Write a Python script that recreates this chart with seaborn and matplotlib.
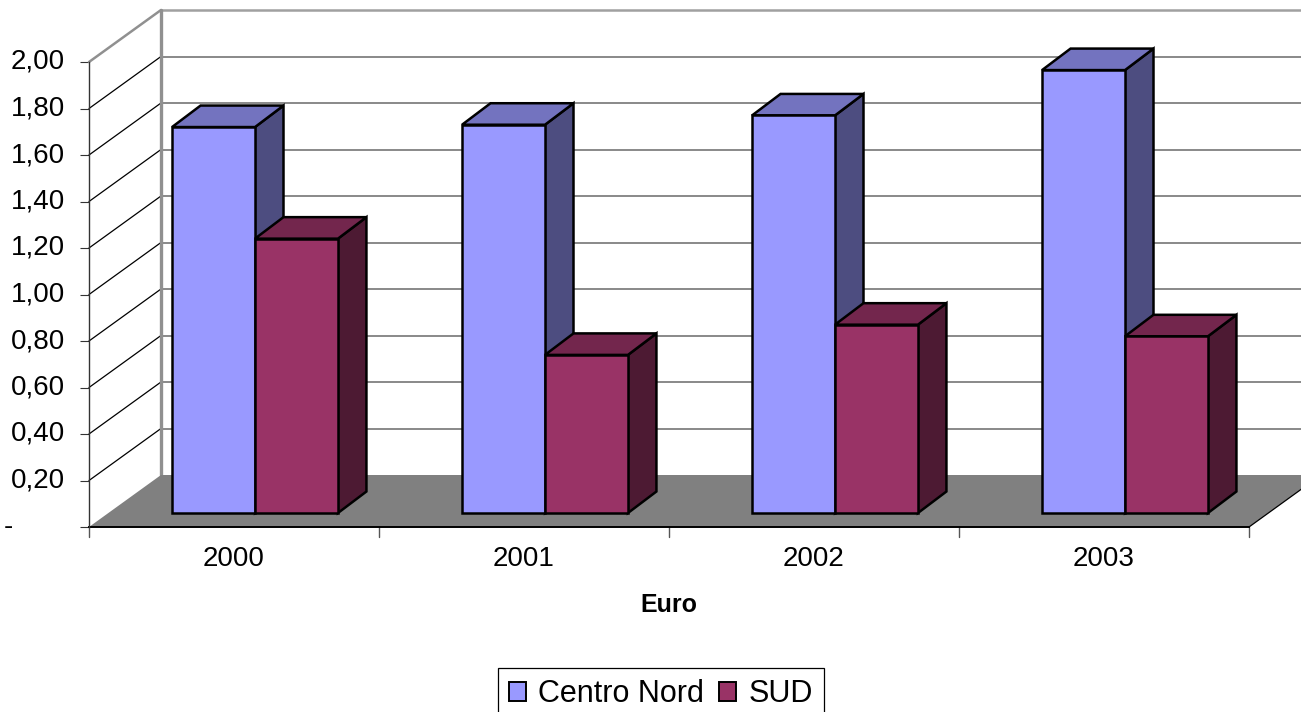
import matplotlib
matplotlib.use("Agg")
import matplotlib.pyplot as plt
from matplotlib.patches import Polygon
from matplotlib.lines import Line2D
from matplotlib.transforms import Affine2D
import pandas as pd
import seaborn as sns

years = ["2000", "2001", "2002", "2003"]
centro_nord = [1.66, 1.67, 1.71, 1.905]
sud = [1.18, 0.68, 0.81, 0.76]
series_names = ["Centro Nord", "SUD"]
y_ticks = [0.0, 0.2, 0.4, 0.6, 0.8, 1.0, 1.2, 1.4, 1.6, 1.8, 2.0]
y_labels = ["-", "0,20", "0,40", "0,60", "0,80", "1,00", "1,20", "1,40", "1,60", "1,80", "2,00"]

FRONT = {"Centro Nord": "#9999FF", "SUD": "#993366"}
TOP = {"Centro Nord": "#7373BF", "SUD": "#73264D"}
SIDE = {"Centro Nord": "#4D4D80", "SUD": "#4D1A33"}

sns.set_theme(style="white")
plt.rcParams["font.family"] = ["Liberation Sans", "DejaVu Sans"]

W, H = 1301, 712
fig = plt.figure(figsize=(W / 100, H / 100), dpi=100, facecolor="white")
ax = fig.add_axes([89 / W, (H - 527) / H, 1160 / W, 465 / H])
ax.patch.set_alpha(0)

df = pd.DataFrame({
    "Anno": years * 2,
    "Serie": [series_names[0]] * 4 + [series_names[1]] * 4,
    "Valore": centro_nord + sud,
})
sns.barplot(data=df, x="Anno", y="Valore", hue="Serie", order=years,
            hue_order=series_names, palette=FRONT, width=0.572, gap=0,
            dodge=True, saturation=1, edgecolor="black", linewidth=1.8,
            ax=ax, legend=False)
ax.set_xlim(-0.5, 3.5)
ax.set_ylim(0, 2.0)


def shifted(dx, dy):
    return ax.transData + Affine2D().translate(dx, dy)


# pixel depth of the pseudo-3D box and of the bars inside it
WALL = (72, 52)
BAR_OFF = (21, 14)
BAR_DEPTH = (28.5, 21.5)
LW_BAR = 1.8

back = shifted(*WALL)
x0, x1 = ax.get_xlim()
# back wall gridlines
for v in y_ticks[1:-1]:
    ax.add_line(Line2D([x0, x1 + 0.3], [v, v], transform=back, color="#808080",
                       lw=1.3, zorder=1, clip_on=False))
for v in y_ticks[1:]:
    p0 = ax.transData.transform((x0, v))
    col, lw = ("#909090", 1.8) if v == 2.0 else ("black", 0.9)
    ax.add_line(Line2D([p0[0], p0[0] + WALL[0]], [p0[1], p0[1] + WALL[1]],
                       transform=None, color=col, lw=lw, zorder=1, clip_on=False))
ax.add_line(Line2D([x0, x1 + 0.3], [2.0, 2.0], transform=back, color="#A0A0A0",
                   lw=1.8, zorder=1, clip_on=False))
ax.add_line(Line2D([x0, x0], [0, 2.0], transform=back, color="#909090",
                   lw=2.4, zorder=1, clip_on=False))

# floor
a = ax.transData.transform((x0, 0))
b = ax.transData.transform((x1, 0))
floor = [a, (a[0] + WALL[0], a[1] + WALL[1]), (b[0] + WALL[0], b[1] + WALL[1]), b]
ax.add_patch(Polygon(floor, closed=True, transform=None, facecolor="#808080",
                     edgecolor="none", zorder=2, clip_on=False))
ax.add_line(Line2D([b[0], b[0] + WALL[0]], [b[1], b[1] + WALL[1]], transform=None,
                   color="black", lw=0.9, zorder=2, clip_on=False))

# bars: shift seaborn's bars and add depth faces derived from each bar
z = 3.0
bar_tf = shifted(*BAR_OFF)
n_cat = len(years)
for i in range(n_cat):
    for j, name in enumerate(series_names):
        bar = ax.containers[j][i]
        xa, xb = bar.get_x(), bar.get_x() + bar.get_width()
        top = bar.get_height()
        pa = bar_tf.transform((xa, top))
        pb = bar_tf.transform((xb, top))
        pc = bar_tf.transform((xb, 0))
        dx, dy = BAR_DEPTH
        ax.add_patch(Polygon([pb, (pb[0] + dx, pb[1] + dy), (pc[0] + dx, pc[1] + dy), pc],
                             closed=True, transform=None, facecolor=SIDE[name],
                             edgecolor="black", lw=LW_BAR, joinstyle="miter",
                             zorder=z, clip_on=False))
        ax.add_patch(Polygon([pa, pb, (pb[0] + dx, pb[1] + dy), (pa[0] + dx, pa[1] + dy)],
                             closed=True, transform=None, facecolor=TOP[name],
                             edgecolor="black", lw=LW_BAR, joinstyle="miter",
                             zorder=z, clip_on=False))
        bar.set_transform(bar_tf)
        bar.set_clip_on(False)
        bar.set_zorder(z + 0.1)
        z += 1

# axes
for s in ("top", "right"):
    ax.spines[s].set_visible(False)
ax.spines["left"].set_color("#333333")
ax.spines["left"].set_linewidth(1.0)
ax.spines["bottom"].set_color("black")
ax.spines["bottom"].set_linewidth(1.4)
ax.spines["left"].set_zorder(50)
ax.spines["bottom"].set_zorder(2.5)

ax.set_yticks(y_ticks)
ax.set_yticklabels(y_labels, fontsize=20)
ax.set_xticks(range(n_cat))
ax.set_xticklabels(years, fontsize=20)
ax.tick_params(axis="y", length=6.5, width=0.8, color="#333333", pad=11,
               left=True, labelcolor="black")
ax.tick_params(axis="x", length=0, pad=14, labelcolor="black")
# the dash for zero sits inside the number column, not at its right edge
dash = ax.get_yticklabels()[0]
dash.set_ha("center")
dash.set_x(-0.0485)
for lab in ax.get_yticklabels():
    lab.set_verticalalignment("center")
for e in [x0, 0.5, 1.5, 2.5, x1]:
    p = ax.transData.transform((e, 0))
    ax.add_line(Line2D([p[0], p[0]], [p[1], p[1] - 10], transform=None,
                       color="#555555", lw=1.0, clip_on=False))

ax.set_ylabel("")
ax.set_xlabel("Euro", fontsize=18, fontweight="bold", color="black", labelpad=15)

handles = [Polygon([(0, 0), (1, 0), (1, 1), (0, 1)], closed=True,
                   facecolor=FRONT[n], edgecolor="black", lw=1.4) for n in series_names]
leg = fig.legend(handles=handles, labels=series_names, loc="lower left",
                 bbox_to_anchor=(498 / W, -0.011), bbox_transform=fig.transFigure,
                 borderaxespad=0, ncol=2, fontsize=22, frameon=True, fancybox=False,
                 edgecolor="black", facecolor="white", framealpha=1,
                 handlelength=0.55, handleheight=0.55, handletextpad=0.42,
                 columnspacing=0.48, borderpad=0.35, labelcolor="black")
leg.get_frame().set_linewidth(0.9)

fig.savefig("out.png", dpi=100)
